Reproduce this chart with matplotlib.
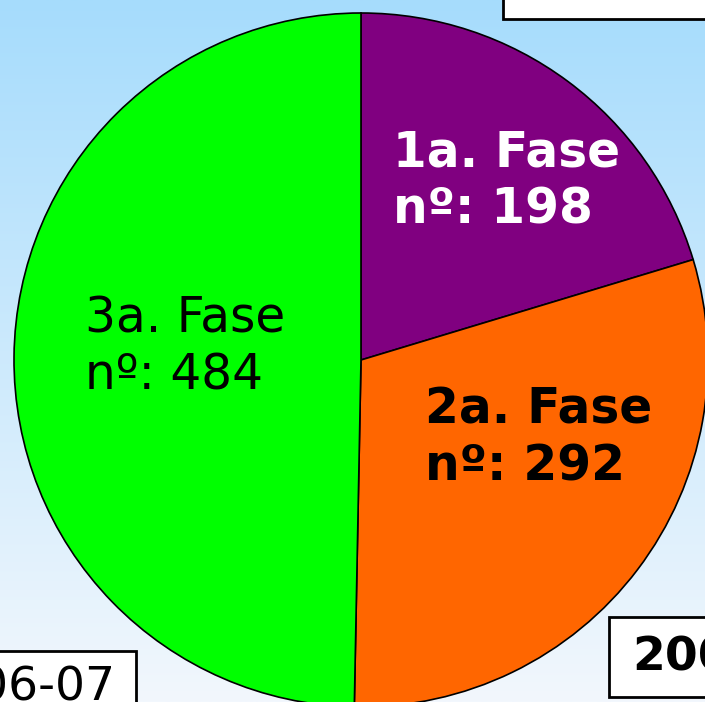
import numpy as np
import matplotlib.pyplot as plt
from matplotlib.patches import Rectangle

# data
phases = ['1a. Fase', '2a. Fase', '3a. Fase']
counts = [198, 292, 484]
colors = ['#800080', '#ff6600', '#00ff00']
text_colors = ['white', 'black', 'black']
text_weights = ['bold', 'bold', 'normal']

W, H = 705, 702
fig = plt.figure(figsize=(W / 100, H / 100), dpi=100)
ax = fig.add_axes([0, 0, 1, 1])

# background gradient, light blue at top fading to near white
top = np.array([166, 220, 252]) / 255
bottom = np.array([242, 247, 253]) / 255
t = np.linspace(0, 1, 256)[:, None]
grad = (top * (1 - t) + bottom * t)[:, None, :]
ax.imshow(grad, extent=[0, W, 0, H], aspect='auto', origin='upper', zorder=0)

# pie
wedges, _ = ax.pie(counts, colors=colors, startangle=90, counterclock=False,
                   center=(361, H - 360), radius=347, frame=True,
                   wedgeprops=dict(edgecolor='black', linewidth=1.2))
for w in wedges:
    w.set_zorder(2)
ax.set_xlim(0, W)
ax.set_ylim(0, H)
ax.set_aspect('equal')
ax.axis('off')

# labels
label_pos = [(393, H - 181), (425, H - 438), (85, H - 347)]
for name, n, (x, y), c, fw in zip(phases, counts, label_pos, text_colors, text_weights):
    ax.text(x, y, f'{name}\nnº: {n}', color=c, fontsize=35, fontweight=fw,
            ha='left', va='center', linespacing=1.22, zorder=3)

# boxes partly outside the frame
ax.add_patch(Rectangle((503, H - 19), 260, 60, facecolor='white',
                       edgecolor='black', linewidth=2, zorder=4))
ax.add_patch(Rectangle((-60, H - 760), 196, 109, facecolor='white',
                       edgecolor='black', linewidth=2, zorder=4))
ax.text(116, H - 688, '2006-07', fontsize=34, ha='right', va='center', zorder=5)
ax.add_patch(Rectangle((609, H - 697), 200, 80, facecolor='white',
                       edgecolor='black', linewidth=2, zorder=4))
ax.text(632, H - 658, '2007-08', fontsize=34, fontweight='bold',
        ha='left', va='center', zorder=5)

fig.savefig('out.png', dpi=100)
